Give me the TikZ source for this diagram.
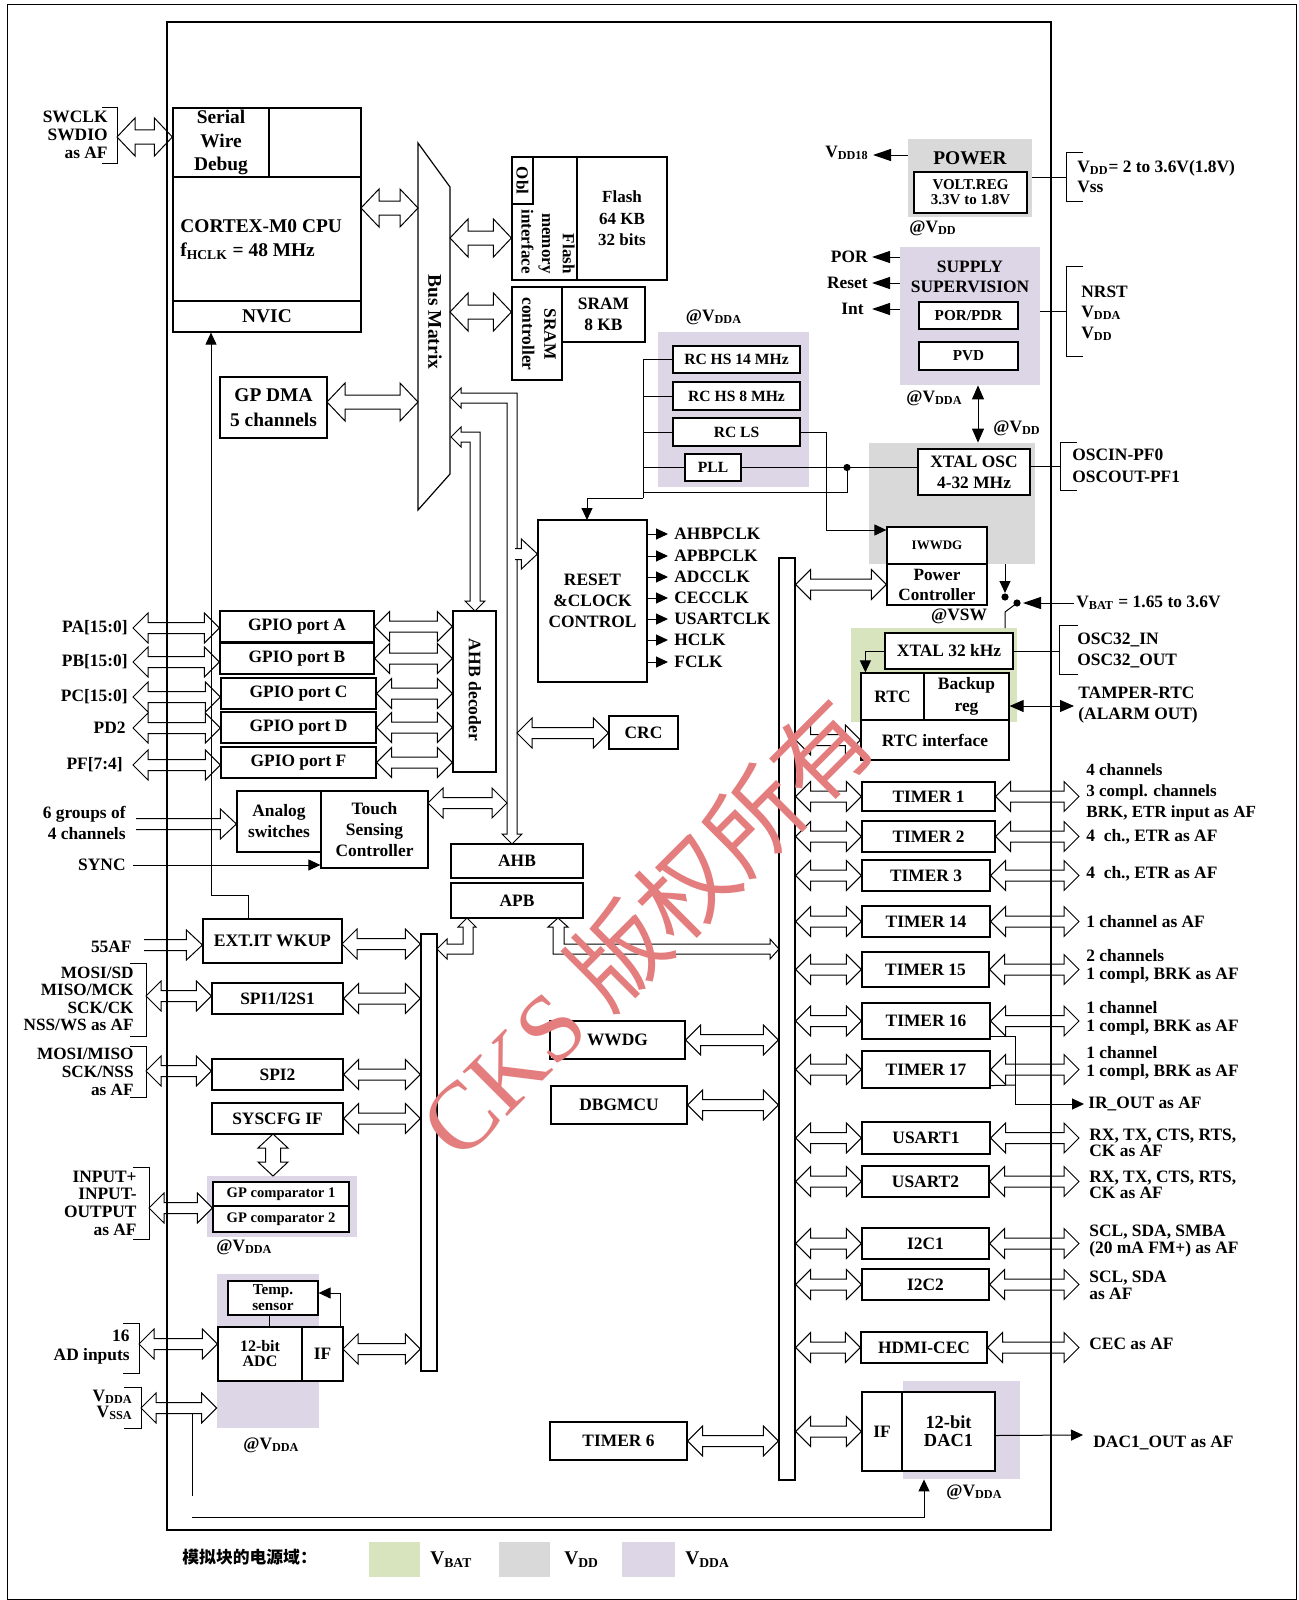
\documentclass[tikz,border=0pt]{standalone}
\usepackage{fontspec}
\setmainfont{Liberation Serif}
\newfontfamily\cjk{Noto Sans CJK SC}
\usetikzlibrary{arrows.meta,calc,fit}
\definecolor{lav}{RGB}{220,214,230}
\definecolor{gry}{RGB}{217,217,217}
\definecolor{grn}{RGB}{216,228,190}
\definecolor{wmred}{RGB}{228,125,125}
\newcommand\fs[2]{\fontsize{#1}{#2}\selectfont}
\newcommand\sbs[1]{\textsubscript{#1}}
\newcommand\bx[7][]{\node[box,fit={(#3,#4)(#5,#6)}] (#2) {};
  \node[align=center,#1] (#2t) at (#2.center) {#7};}
\newcommand\dbgen[5]{\path[hol] let \p1=#4, \p2=#5 in
  (\x1,\y1) -- (\x1+#1,\y1+#2) -- (\x1+#1,\y1+#3) -- (\x2-#1,\y1+#3) -- (\x2-#1,\y1+#2) -- (\x2,\y1)
  -- (\x2-#1,\y1-#2) -- (\x2-#1,\y1-#3) -- (\x1+#1,\y1-#3) -- (\x1+#1,\y1-#2) -- cycle;}
\newcommand\dbh[2]{\dbgen{7.5pt}{7.5pt}{2.75pt}{#1}{#2}}
\newcommand\dbH[2]{\dbgen{9pt}{9.5pt}{3.5pt}{#1}{#2}}
\newcommand\sgh[2]{\path[hol] let \p1=#1, \p2=#2 in
  (\x1,\y1+2.75pt) -- (\x2-8pt,\y1+2.75pt) -- (\x2-8pt,\y1+7.5pt) -- (\x2,\y1)
  -- (\x2-8pt,\y1-7.5pt) -- (\x2-8pt,\y1-2.75pt) -- (\x1,\y1-2.75pt);}
\newcommand\dbv[2]{\path[hol] let \p1=#1, \p2=#2 in
  (\x1,\y1) -- (\x1+7.5pt,\y1-7pt) -- (\x1+3.75pt,\y1-7pt) -- (\x1+3.75pt,\y2+7pt) -- (\x1+7.5pt,\y2+7pt) -- (\x1,\y2)
  -- (\x1-7.5pt,\y2+7pt) -- (\x1-3.75pt,\y2+7pt) -- (\x1-3.75pt,\y1-7pt) -- (\x1-7.5pt,\y1-7pt) -- cycle;}
\begin{document}
\begin{tikzpicture}[x=0.5pt,y=-0.5pt,
  every node/.style={font=\bfseries\fs{8.7}{9.5},inner sep=0pt},
  box/.style={draw,line width=0.6pt,fill=white,inner sep=0pt},
  hol/.style={draw,line width=0.5pt,fill=white},
  ln/.style={line width=0.5pt},
  arr/.style={line width=0.5pt,-{Triangle[length=6pt,width=5.5pt]}},
  arrl/.style={line width=0.5pt,-{Triangle[length=9pt,width=6pt]}},
  darr/.style={line width=0.5pt,{Triangle[length=7pt,width=6pt]}-{Triangle[length=7pt,width=6pt]}},
  lbl/.style={align=left,anchor=west},
  rlbl/.style={align=right,anchor=east},
  reg/.style={inner sep=0pt,draw=none}]
\useasboundingbox (0,0) rectangle (1299,1600);
\fill[white] (0,0) rectangle (1299,1600);

% ---------- power domains ----------
\node[reg,fill=gry,fit={(908,139)(1032,217)}] (pwrreg) {};
\node[reg,fill=lav,fit={(900,247)(1040,385)}] (supreg) {};
\node[reg,fill=lav,fit={(658,332)(809,487)}] (rcreg) {};
\node[reg,fill=gry,fit={(869,443)(1035,564)}] (xreg) {};
\node[reg,fill=grn,fit={(851,628)(1017,722)}] (bkreg) {};
\node[reg,fill=lav,fit={(207,1176)(357,1237)}] (cmpreg) {};
\node[reg,fill=lav,fit={(217,1274)(319,1428)}] (adcreg) {};
\node[reg,fill=lav,fit={(903,1381)(1020,1479)}] (dacreg) {};

% ---------- CPU ----------
\bx[font=\bfseries\fs{9.7}{11.8}]{swd}{173}{108}{269}{177}{Serial\\Wire\\Debug}
\bx{swdr}{269}{108}{361}{177}{}
\bx{core}{173}{177}{361}{301}{}
\bx[font=\bfseries\fs{9.7}{10}]{nvic}{173}{301}{361}{332}{NVIC}
\node[anchor=west,font=\bfseries\fs{9.7}{10}] (cput) at (180,226) {CORTEX-M0 CPU};
\node[anchor=west,font=\bfseries\fs{9.7}{10}] (cpuf) at (180,251) {f\sbs{HCLK} = 48 MHz};
\node[rlbl,font=\bfseries\fs{8.7}{9}] (swdl) at (108,135) {SWCLK\\SWDIO\\as AF};
\draw[ln] (102,108) -- (117,108) -- (117,163) -- (102,163);
\coordinate (swdb) at (117,137);
\dbH{(swdb)}{(swd.west |- swdb)}

% ---------- bus matrix ----------
\draw[line width=0.6pt,fill=white] (418,143) -- (450,187) -- (450,474) -- (418,510) -- cycle;
\coordinate (bmL) at (418,300);
\coordinate (bmR) at (450,300);
\node[rotate=-90,font=\bfseries\fs{9.7}{10}] (busm) at (435,322) {Bus Matrix};
\coordinate (cpuo) at (361,208);
\dbH{(cpuo)}{(bmL |- cpuo)}
\bx[font=\bfseries\fs{9.7}{12.5}]{dma}{220}{377}{327}{438}{GP DMA\\5 channels}
\coordinate (dmao) at (327,402);
\dbH{(dmao)}{(bmL |- dmao)}

% ---------- flash / sram ----------
\bx{fif}{512}{157}{577}{280}{}
\bx{obl}{512}{157}{533}{204}{}
\node[rotate=-90,font=\bfseries\fs{8.5}{9}] (oblt2) at (obl.center) {Obl};
\node[rotate=-90,anchor=north east,align=right,font=\bfseries\fs{8.5}{10.3}] (fift) at (575,274) {Flash\\memory\\interface};
\bx[font=\bfseries\fs{8.5}{10.7}]{flash}{577}{157}{667}{280}{Flash\\64 KB\\32 bits}
\bx{sctl}{512}{287}{562}{380}{}
\node[rotate=-90,align=center,font=\bfseries\fs{8.7}{11}] (sctlt2) at (539,334) {SRAM\\controller};
\bx[font=\bfseries\fs{8.7}{10.5}]{sram}{562}{287}{645}{342}{SRAM\\8 KB}
\coordinate (b2f) at (450,238);
\dbH{(b2f)}{(fif.west |- b2f)}
\coordinate (b2s) at (450,312);
\dbH{(b2s)}{(sctl.west |- b2s)}

% ---------- clocks ----------
\node (vdda1) at (714,317) {@V\sbs{DDA}};
\bx[font=\bfseries\fs{7.8}{8}]{rc14}{673}{346}{800}{373}{RC HS 14 MHz}
\bx[font=\bfseries\fs{7.8}{8}]{rc8}{673}{382}{800}{410}{RC HS 8 MHz}
\bx[font=\bfseries\fs{7.8}{8}]{rcls}{673}{418}{800}{446}{RC LS}
\bx[font=\bfseries\fs{7.8}{8}]{pll}{685}{454}{741}{481}{PLL}
\bx[font=\bfseries\fs{8.7}{10.5}]{rcc}{538}{520}{647}{682}{RESET\\\&CLOCK\\CONTROL}
\coordinate (ckv) at (643,498);
\draw[ln] (rc14.west) -| (ckv);
\draw[ln] (rc8.west) -- (rc8.west -| ckv);
\draw[ln] (rcls.west) -- (rcls.west -| ckv);
\draw[ln] (pll.west) -- (pll.west -| ckv);
\coordinate (rcin) at (587,520);
\draw[arr] (ckv) -| (rcin);
\foreach \t/\yy in {AHBPCLK/534,APBPCLK/556,ADCCLK/577,CECCLK/598,USARTCLK/619,HCLK/640,FCLK/662}{
  \node[anchor=west] (ck\t) at (674,\yy) {\t};
  \draw[arr] (rcc.east |- ck\t.west) -- ([xshift=-3pt]ck\t.west);
}
\bx[font=\bfseries\fs{8.7}{10.5}]{xosc}{918}{449}{1030}{495}{XTAL OSC\\4-32 MHz}
\draw[ln] (pll.east) -- (xosc.west |- pll.east);
\coordinate (dot1) at (847,467.5);
\fill (dot1) circle (1.8pt);
\draw[ln] (dot1) -- (847,492) -- (ckv |- 847,492);
\bx[font=\bfseries\fs{6.5}{7}]{iwdg}{887}{527}{987}{564}{IWWDG}
\bx[font=\bfseries\fs{8.6}{10}]{pctl}{887}{564}{987}{605}{Power\\Controller}
\draw[arr] (rcls.east) -| (826,530) -- (iwdg.west |- 826,530);
\coordinate (xoo) at (1030,466);
\draw[ln] (xoo) -- (1060,466);
\draw[ln] (1077,442) -- (1060,442) -- (1060,490) -- (1077,490);
\node[lbl,font=\bfseries\fs{8.7}{11}] (oscl) at (1072,466) {OSCIN-PF0\\OSCOUT-PF1};

% ---------- power & supervision ----------
\node[font=\bfseries\fs{9.7}{10}] (pwr) at (970,158) {POWER};
\bx[font=\bfseries\fs{7.5}{7.5}]{vreg}{914}{172}{1027}{213}{VOLT.REG\\3.3V to 1.8V}
\node[anchor=east] (vdd18) at (869,153) {V\sbs{DD18}};
\draw[arrl] (pwrreg.west |- 0,155) -- ([xshift=2pt]vdd18.east |- 0,155);
\coordinate (pwro) at (1032,177);
\draw[ln] (pwro) -- (1066,177);
\draw[ln] (1083,152) -- (1066,152) -- (1066,201) -- (1083,201);
\node[lbl,font=\bfseries\fs{8.7}{10}] (vddl) at (1077,177) {V\sbs{DD}= 2 to 3.6V(1.8V)\\Vss};
\node[anchor=west] (vdd1) at (909,228) {@V\sbs{DD}};
\node[align=center,font=\bfseries\fs{8.7}{10}] (sup) at (970,277) {SUPPLY\\SUPERVISION};
\bx[font=\bfseries\fs{7.6}{8}]{porpdr}{919}{302}{1018}{329}{POR/PDR}
\bx[font=\bfseries\fs{7.6}{8}]{pvd}{919}{342}{1018}{370}{PVD}
\node[rlbl] (por) at (868,257) {POR};
\draw[arrl] (supreg.west |- por.east) -- ([xshift=2pt]por.east);
\node[rlbl] (rst) at (868,283) {Reset};
\draw[arrl] (supreg.west |- rst.east) -- ([xshift=2pt]rst.east);
\node[rlbl] (intl) at (864,309) {Int};
\draw[arrl] (supreg.west |- intl.east) -- ([xshift=4pt]intl.east);
\coordinate (supo) at (1040,311);
\draw[ln] (supo) -- (1066,311);
\draw[ln] (1083,266) -- (1066,266) -- (1066,356) -- (1083,356);
\node[lbl,font=\bfseries\fs{8.7}{10.3}] (nrst) at (1081,313) {NRST\\V\sbs{DDA}\\V\sbs{DD}};
\node[anchor=west] (vdda2) at (906,398) {@V\sbs{DDA}};
\node[anchor=west] (vdd2) at (993,428) {@V\sbs{DD}};
\draw[darr] (supreg.south -| 978,0) -- (xreg.north -| 978,0);

% ---------- VBAT / RTC ----------
\node (vsw) at (959,616) {@VSW};
\draw[arr] (1005,564) -- (1005,593);
\fill (1005,597) circle (1.8pt);
\coordinate (sw2) at (1017,603);
\fill (sw2) circle (1.8pt);
\draw[ln] (1005,628) -- (1005,612) -- (sw2);
\node[lbl] (vbat) at (1076,603) {V\sbs{BAT} = 1.65 to 3.6V};
\draw[arrl] ([xshift=-1pt]vbat.west) -- ([xshift=3pt]sw2);
\bx{x32}{885}{633}{1013}{669}{XTAL 32 kHz}
\bx{rtc}{861}{673}{924}{720}{RTC}
\bx[font=\bfseries\fs{8.7}{11}]{bkp}{924}{673}{1009}{720}{Backup\\reg}
\bx{rtci}{861}{720}{1009}{760}{RTC interface}
\draw[arr] (x32.west) -| ([xshift=2.5pt]rtc.north west);
\draw[ln] (x32.east) -- (1059,651);
\draw[ln] (1078,625) -- (1059,625) -- (1059,674) -- (1078,674);
\node[lbl,font=\bfseries\fs{8.7}{10.5}] (osc32) at (1077,650) {OSC32\_IN\\OSC32\_OUT};
\node[lbl,font=\bfseries\fs{8.7}{10.5}] (tamp) at (1078,705) {TAMPER-RTC\\(ALARM OUT)};
\draw[darr] (bkp.east |- 0,706) -- ([xshift=-2pt]tamp.west |- 0,706);

% ---------- APB bars ----------
\node[box,fit={(779,558)(795,1480)}] (apbR) {};
\node[box,fit={(421,934)(437,1371)}] (apbL) {};
\dbh{(apbR.east |- pctl.west)}{(pctl.west)}
\dbh{(apbR.east |- rtci.west)}{(rtci.west)}

% ---------- timers & peripherals (right) ----------
\bx{t1}{862}{782}{995}{811}{TIMER 1}
\bx{t2}{862}{821}{995}{852}{TIMER 2}
\bx{t3}{862}{860}{990}{891}{TIMER 3}
\bx{t14}{862}{906}{990}{937}{TIMER 14}
\bx{t15}{862}{952}{989}{987}{TIMER 15}
\bx{t16}{862}{1003}{990}{1039}{TIMER 16}
\bx{t17}{862}{1051}{990}{1088}{TIMER 17}
\bx{us1}{862}{1122}{990}{1154}{USART1}
\bx{us2}{862}{1166}{989}{1197}{USART2}
\bx{ic1}{862}{1228}{989}{1259}{I2C1}
\bx{ic2}{862}{1269}{989}{1300}{I2C2}
\bx{cec}{861}{1332}{987}{1363}{HDMI-CEC}
\bx{dacif}{862}{1392}{902}{1471}{IF}
\bx[font=\bfseries\fs{9.2}{9}]{dac}{902}{1392}{995}{1471}{12-bit\\DAC1}
\coordinate (rx) at (1079,700);
\foreach \qq in {t1,t2,t3,t14,t15,t16,t17,us1,us2,ic1,ic2,cec,dacif}{
  \dbh{(apbR.east |- \qq.west)}{(\qq.west)}
}
\foreach \qq in {t1,t2,t3,t14,t15,t16,t17,us1,us2,ic1,ic2,cec}{
  \dbh{(\qq.east)}{(rx |- \qq.east)}
}
\node[lbl,font=\bfseries\fs{8.5}{10.5}] (lt1) at (1086,792) {4 channels\\3 compl. channels\\BRK, ETR input as AF};
\node[lbl] (lt2) at (1086,837) {4\ \ ch., ETR as AF};
\node[lbl] (lt3) at (1086,874) {4\ \ ch., ETR as AF};
\node[lbl] (lt14) at (1086,922) {1 channel as AF};
\node[lbl,font=\bfseries\fs{8.7}{9}] (lt15) at (1086,966) {2 channels\\1 compl, BRK as AF};
\node[lbl,font=\bfseries\fs{8.7}{9}] (lt16) at (1086,1018) {1 channel\\1 compl, BRK as AF};
\node[lbl,font=\bfseries\fs{8.7}{9}] (lt17) at (1086,1063) {1 channel\\1 compl, BRK as AF};
\node[lbl] (lir) at (1088,1104) {IR\_OUT as AF};
\node[lbl,font=\bfseries\fs{8.7}{8.2}] (lu1) at (1089,1143) {RX, TX, CTS, RTS,\\CK as AF};
\node[lbl,font=\bfseries\fs{8.7}{8.2}] (lu2) at (1089,1185) {RX, TX, CTS, RTS,\\CK as AF};
\node[lbl,font=\bfseries\fs{8.7}{8.5}] (li1) at (1089,1241) {SCL, SDA, SMBA\\(20 mA FM+) as AF};
\node[lbl,font=\bfseries\fs{8.7}{8.5}] (li2) at (1089,1285) {SCL, SDA\\as AF};
\node[lbl] (lcec) at (1089,1344) {CEC as AF};
\node[lbl] (ldac) at (1093,1443) {DAC1\_OUT as AF};
\coordinate (irx) at (1015,1085);
\draw[ln] ([yshift=1.5pt]t16.south east) -| (irx);
\draw[ln] ([yshift=1.5pt]t17.south east) -- (irx);
\draw[arr] (irx) |- ([xshift=-2pt]lir.west);
\draw[arr] ([yshift=-2pt]dac.east) -- ([xshift=-5pt]ldac.west |- 0,1435);
\node[anchor=west] (vdda5) at (946,1492) {@V\sbs{DDA}};

% ---------- middle column ----------
\bx{ahb}{451}{844}{583}{878}{AHB}
\bx{apb}{451}{883}{583}{918}{APB}
\bx{crc}{609}{716}{678}{749}{CRC}
\bx{wwdg}{550}{1021}{685}{1059}{WWDG}
\bx{dbg}{551}{1086}{687}{1124}{DBGMCU}
\bx{t6}{550}{1422}{687}{1460}{TIMER 6}
\dbh{(wwdg.east)}{(apbR.west |- wwdg.east)}
\dbh{(dbg.east)}{(apbR.west |- dbg.east)}
\dbh{(t6.east)}{(apbR.west |- t6.east)}
% AHB pipes from bus matrix
\path[hol] (461,388) -- (451,398) -- (461,408) -- (461,403) -- (507,403) -- (507,834) -- (502,834) -- (512,844) -- (522,834) -- (517,834) -- (517,393) -- (461,393) -- cycle;
\path[hol] (461,427) -- (451,437) -- (461,447) -- (461,442) -- (470,442) -- (470,601) -- (465,601) -- (475,611) -- (485,601) -- (480,601) -- (480,432) -- (461,432) -- cycle;
\coordinate (p2r) at (515,554);
\sgh{(p2r)}{(rcc.west |- p2r)}
\coordinate (p2c) at (517,733);
\dbh{(p2c)}{(crc.west |- p2c)}
% APB bridges
\path[hol] (467,918) -- (476,927) -- (473,927) -- (473,954) -- (447,954) -- (447,959) -- (437,949) -- (447,939) -- (447,944) -- (463,944) -- (463,927) -- (458,927) -- cycle;
\path[hol] (558,918) -- (568,927) -- (564,927) -- (564,944) -- (770,944) -- (770,939) -- (779,949) -- (770,959) -- (770,954) -- (553,954) -- (553,927) -- (548,927) -- cycle;

% ---------- GPIO ----------
\bx{gpA}{220}{611}{374}{642}{GPIO port A}
\bx{gpB}{220}{643}{374}{674}{GPIO port B}
\bx{gpC}{221}{678}{376}{709}{GPIO port C}
\bx{gpD}{221}{712}{376}{743}{GPIO port D}
\bx{gpF}{221}{747}{376}{778}{GPIO port F}
\bx{ahbd}{453}{611}{496}{772}{}
\node[rotate=-90,font=\bfseries\fs{8.8}{9}] (ahbdt2) at (475,690) {AHB decoder};
\coordinate (gl) at (133,600);
\node[rlbl] (lpa) at (128,628) {PA[15:0]};
\node[rlbl] (lpb) at (128,662) {PB[15:0]};
\node[rlbl] (lpc) at (128,697) {PC[15:0]};
\node[rlbl] (lpd) at (126,728) {PD2};
\node[rlbl] (lpf) at (123,765) {PF[7:4]};
\dbh{(gl |- lpa.east)}{(gpA.west |- lpa.east)}
\dbh{(gl |- lpb.east)}{(gpB.west |- lpb.east)}
\dbh{(gl |- lpc.east)}{(gpC.west |- lpc.east)}
\dbh{(gl |- lpd.east)}{(gpD.west |- lpd.east)}
\dbh{(gl |- lpf.east)}{(gpF.west |- lpf.east)}
\foreach \qq in {gpA,gpB,gpC,gpD,gpF}{
  \dbh{(\qq.east)}{(ahbd.west |- \qq.east)}
}

% ---------- touch sensing ----------
\bx[font=\bfseries\fs{8.7}{10.5}]{asw}{237}{791}{321}{852}{Analog\\switches}
\bx[font=\bfseries\fs{8.7}{10.5}]{tsc}{321}{791}{428}{868}{Touch\\Sensing\\Controller}
\node[rlbl,font=\bfseries\fs{8.7}{10.5}] (l6g) at (126,823) {6 groups of\\4 channels};
\coordinate (g6) at (136,824);
\sgh{(g6)}{(asw.west |- g6)}
\node[rlbl] (lsync) at (126,865) {SYNC};
\draw[arr] ([xshift=3.5pt]lsync.east) -- (tsc.west |- lsync.east);
\coordinate (tso) at (428,803);
\coordinate (tsi) at (507,803);
\dbh{(tso)}{(tsi)}

% ---------- left APB peripherals ----------
\bx[font=\bfseries\fs{8.8}{9}]{exti}{203}{919}{342}{963}{EXT.IT WKUP}
\node[rlbl] (l55) at (132,947) {55AF};
\coordinate (a55) at (144,945);
\sgh{(a55)}{(exti.west |- a55)}
\coordinate (exo) at (342,944);
\dbh{(exo)}{(apbL.west |- exo)}
\bx{spi1}{212}{983}{343}{1014}{SPI1/I2S1}
\bx{spi2}{212}{1059}{343}{1090}{SPI2}
\bx{syscfg}{212}{1103}{343}{1134}{SYSCFG IF}
\foreach \qq in {spi1,spi2,syscfg}{
  \dbh{(\qq.east)}{(apbL.west |- \qq.east)}
}
\node[rlbl,font=\bfseries\fs{8.6}{8.7}] (lspi1) at (134,999) {MOSI/SD\\MISO/MCK\\SCK/CK\\NSS/WS as AF};
\draw[ln] (130,963) -- (146,963) -- (146,1036) -- (130,1036);
\coordinate (s1b) at (146,996);
\dbh{(s1b)}{(spi1.west |- s1b)}
\node[rlbl,font=\bfseries\fs{8.6}{9}] (lspi2) at (134,1072) {MOSI/MISO\\SCK/NSS\\as AF};
\draw[ln] (130,1046) -- (146,1046) -- (146,1097) -- (130,1097);
\coordinate (s2b) at (146,1071);
\dbh{(s2b)}{(spi2.west |- s2b)}
\bx[font=\bfseries\fs{7.3}{8}]{cmp1}{213}{1182}{349}{1206}{GP comparator 1}
\bx[font=\bfseries\fs{7.3}{8}]{cmp2}{213}{1206}{349}{1232}{GP comparator 2}
\coordinate (sc1) at (273,1134);
\coordinate (sc2) at (273,1176);
\dbv{(sc1)}{(sc2)}
\node[rlbl,font=\bfseries\fs{8.7}{8.8}] (lcmp) at (137,1203) {INPUT+\\INPUT-\\OUTPUT\\as AF};
\draw[ln] (133,1167) -- (149,1167) -- (149,1239) -- (133,1239);
\coordinate (cb) at (149,1208);
\dbh{(cb)}{(cmp1.west |- cb)}
\node[anchor=west] (vdda3) at (216,1247) {@V\sbs{DDA}};

% ---------- ADC ----------
\bx[font=\bfseries\fs{7.6}{8}]{temp}{228}{1281}{318}{1315}{Temp.\\sensor}
\bx[font=\bfseries\fs{8}{7.5}]{adc}{218}{1327}{302}{1381}{12-bit\\ADC}
\bx{adcif}{302}{1327}{343}{1381}{IF}
\draw[ln] (temp.south -| 269,0) -- (adc.north -| 269,0);
\draw[arr] (adcif.north -| 340,0) |- (temp.east |- 0,1293);
\coordinate (aio) at (343,1349);
\dbh{(aio)}{(apbL.west |- aio)}
\node[rlbl,font=\bfseries\fs{8.7}{9.5}] (l16) at (130,1347) {16\\AD inputs};
\draw[ln] (123,1323) -- (139,1323) -- (139,1373) -- (123,1373);
\coordinate (adb) at (139,1344);
\dbh{(adb)}{(adc.west |- adb)}
\node[rlbl,font=\bfseries\fs{8.7}{8}] (lvdda) at (133,1405) {V\sbs{DDA}\\V\sbs{SSA}};
\draw[ln] (124,1387) -- (141,1387) -- (141,1428) -- (124,1428);
\coordinate (vab) at (141,1408);
\dbh{(vab)}{(adcreg.west |- vab)}
\node[anchor=west] (vdda4) at (243,1445) {@V\sbs{DDA}};

% ---------- long lines drawn over ----------
\draw[arr] (exti.north -| 248,0) |- (211,895) -- (nvic.south -| 211,0);
\draw[ln] (192,1413) -- (192,1496);
\draw[arr] (192,1517) -| (dacreg.south -| 924,0);
\draw[line width=0.6pt] (167,22) rectangle (1051,1530);
\draw[ln] (7,5) rectangle (1296,1599);

% ---------- legend ----------
\node[anchor=west,font=\cjk\bfseries\fs{8.4}{9}] (leg) at (182,1557) {模拟块的电源域：};
\node[reg,fill=grn,fit={(369,1542)(420,1577)}] (sw1) {};
\node[anchor=west,font=\bfseries\fs{9.7}{10}] (sl1) at (430,1560) {V\sbs{BAT}};
\node[reg,fill=gry,fit={(499,1542)(550,1577)}] (sw2b) {};
\node[anchor=west,font=\bfseries\fs{9.7}{10}] (sl2) at (564,1560) {V\sbs{DD}};
\node[reg,fill=lav,fit={(622,1542)(675,1577)}] (sw3) {};
\node[anchor=west,font=\bfseries\fs{9.7}{10}] (sl3) at (685,1560) {V\sbs{DDA}};

% ---------- watermark ----------
\node[rotate=45,text=wmred,font=\mdseries\fs{48}{50}] (wm) at (645,928) {CKS {\cjk 版权所有}};
\end{tikzpicture}
\end{document}
